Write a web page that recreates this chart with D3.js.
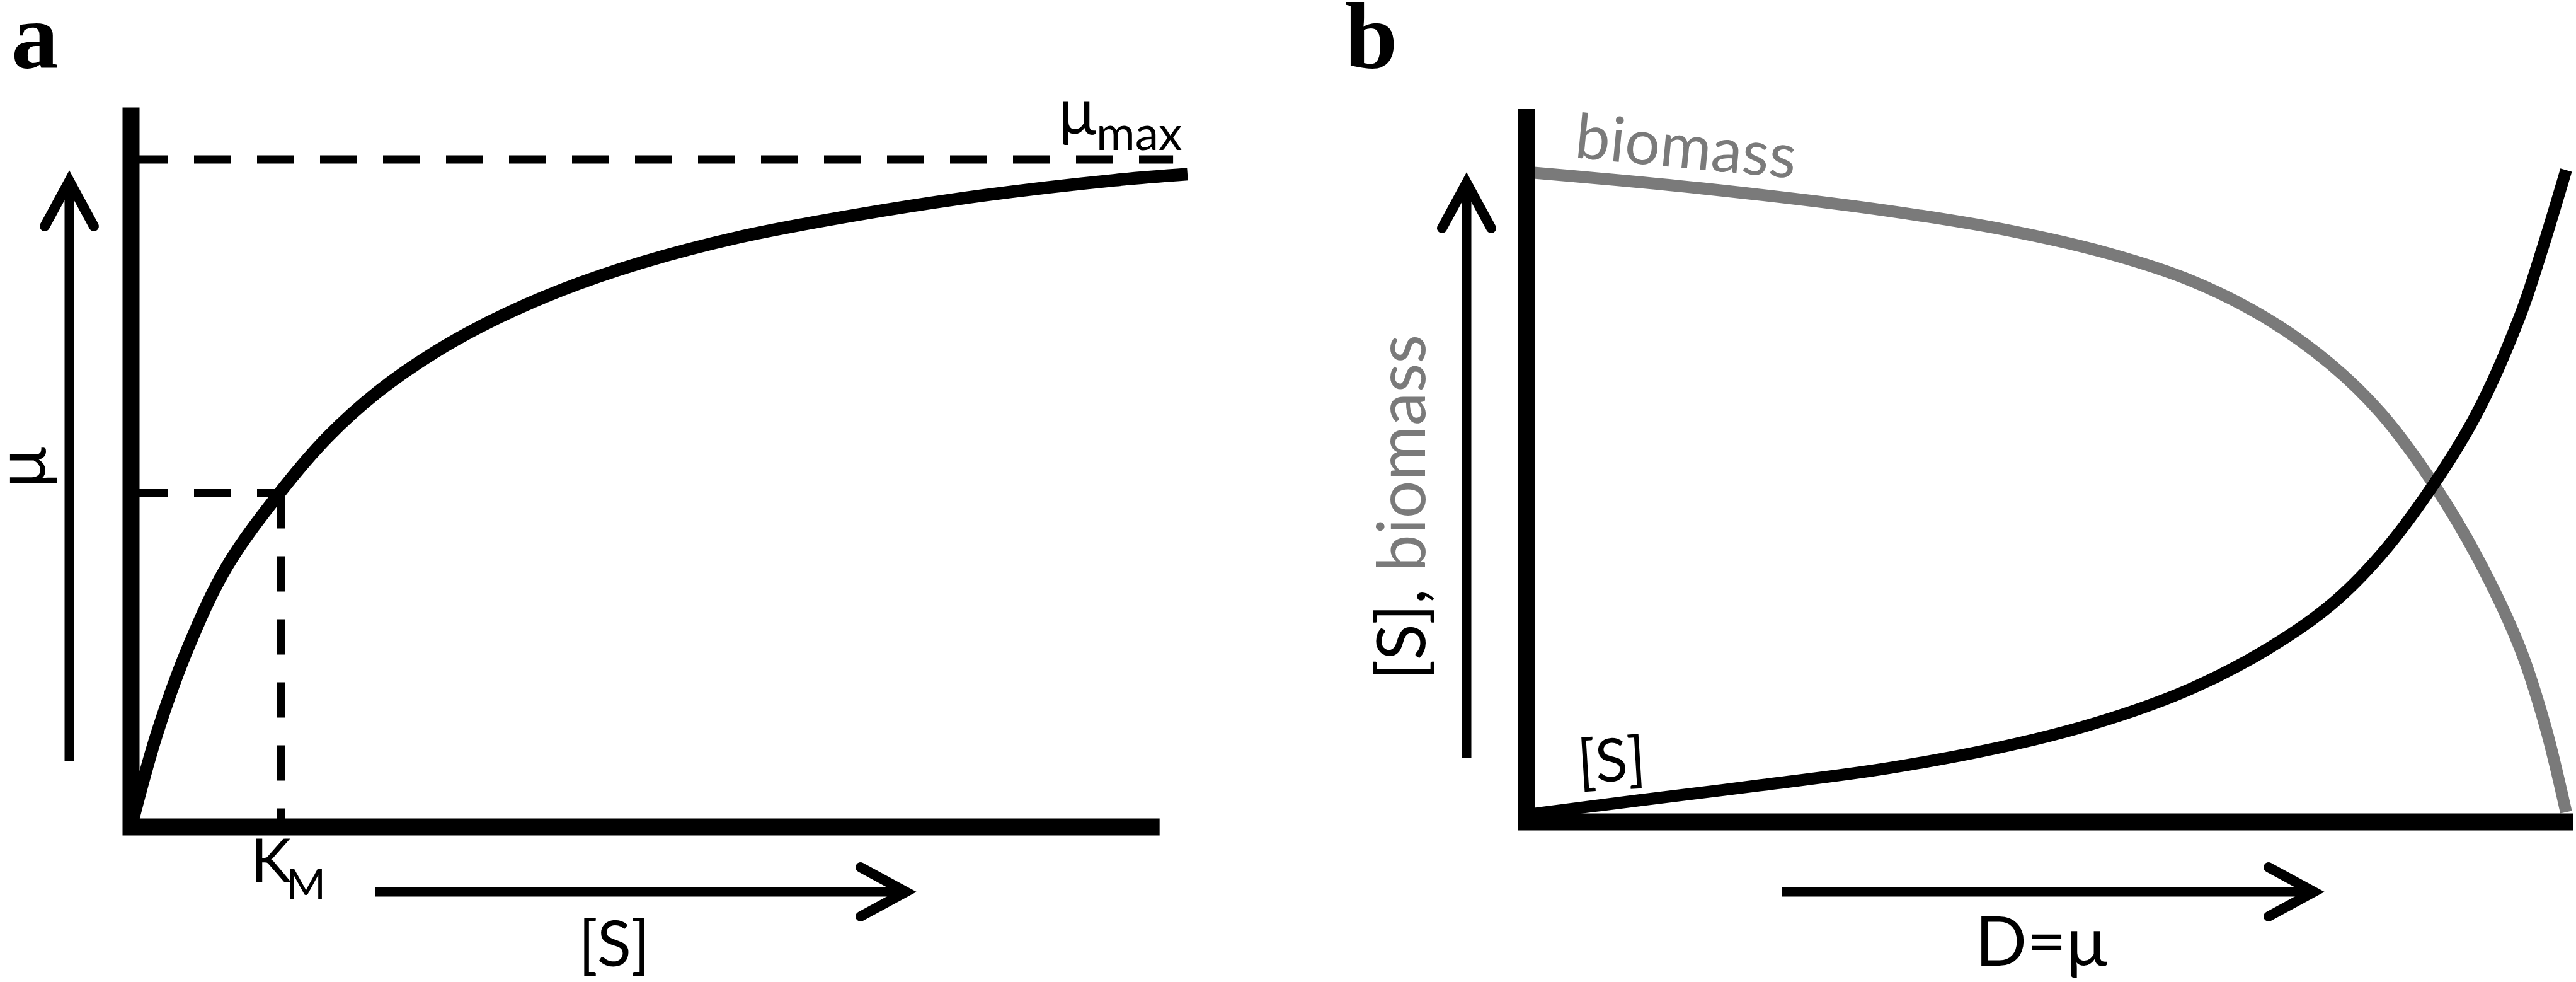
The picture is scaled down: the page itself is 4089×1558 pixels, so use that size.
<!DOCTYPE html>
<html>
<head>
<meta charset="utf-8">
<script src="https://cdn.jsdelivr.net/npm/d3@7"></script>
<style>
  html, body { margin: 0; padding: 0; background: #ffffff; }
  svg { display: block; }
</style>
</head>
<body>
<svg id="chart" width="4089" height="1558"></svg>
<script>
// ---------------- DATA ----------------
// Panel a: Monod / Michaelis-Menten growth curve
const monodS  = [0, 0.176, 0.387, 0.639, 1.0, 1.311, 1.647, 2.025, 2.403, 2.866, 3.412, 4.042, 4.840, 5.681, 6.563, 7.046];
const monodMu = [0, 0.142, 0.272, 0.390, 0.503, 0.584, 0.652, 0.711, 0.758, 0.804, 0.846, 0.883, 0.917, 0.946, 0.969, 0.978];
const muMax = 1.0;
const kM = 1.0;
const muAtKm = 0.5;

// Panel b: chemostat steady state vs dilution rate
const dilutionB  = [0, 0.168, 0.349, 0.470, 0.561, 0.640, 0.712, 0.773, 0.821, 0.872, 0.914, 0.955, 0.979, 0.999];
const biomassVal = [1.0, 0.975, 0.940, 0.908, 0.874, 0.832, 0.774, 0.704, 0.629, 0.519, 0.406, 0.266, 0.147, 0.015];
const dilutionS  = [0, 0.107, 0.228, 0.349, 0.470, 0.561, 0.640, 0.712, 0.773, 0.821, 0.872, 0.914, 0.955, 0.975, 0.999];
const substrate  = [0.011, 0.033, 0.057, 0.083, 0.120, 0.159, 0.206, 0.266, 0.334, 0.411, 0.520, 0.631, 0.780, 0.876, 1.003];

// Labels
const panelLabels = ["a", "b"];
const axisLabelsA = { y: "μ", x: "[S]", km: "K", kmSub: "M", mu: "μ", muSub: "max" };
const axisLabelsB = { yBlack: "[S],", yGray: " biomass", x: "D=μ", biomass: "biomass", s: "[S]" };

// ---------------- LAYOUT ----------------
const svg = d3.select("#chart");
const BLACK = "#000000";
const GRAY = "#7a7a7a";
const SANS = "Lato, 'Open Sans', sans-serif";
const SERIF = "'Liberation Serif', 'Times New Roman', serif";

// Panel a scales
const xA = d3.scaleLinear().domain([0, 1]).range([208, 446]);
const yA = d3.scaleLinear().domain([0, 1]).range([1312, 253]);
// Panel b scales
const xB = d3.scaleLinear().domain([0, 1]).range([2423, 4075]);
const yB = d3.scaleLinear().domain([0, 1]).range([1304, 273]);

const AXIS_W = 27;
const CURVE_W = 20;

function arrow(g, x1, y1, x2, y2) {
  const ang = Math.atan2(y2 - y1, x2 - x1);
  const back = 72, half = 39;
  const ux = Math.cos(ang), uy = Math.sin(ang);
  const px = -uy, py = ux;
  g.append("line").attr("x1", x1).attr("y1", y1).attr("x2", x2 - ux * 4).attr("y2", y2 - uy * 4)
    .attr("stroke", BLACK).attr("stroke-width", 15);
  g.append("path")
    .attr("d", `M${x2 - ux * back + px * half},${y2 - uy * back + py * half} L${x2},${y2} L${x2 - ux * back - px * half},${y2 - uy * back - py * half}`)
    .attr("fill", "none").attr("stroke", BLACK).attr("stroke-width", 16)
    .attr("stroke-linecap", "round").attr("stroke-linejoin", "miter");
}

// ================= PANEL A =================
const gA = svg.append("g");

gA.append("line")
  .attr("x1", xA(0)).attr("x2", xA(6.95)).attr("y1", yA(muMax)).attr("y2", yA(muMax))
  .attr("stroke", BLACK).attr("stroke-width", 13).attr("stroke-dasharray", "58,42");
gA.append("line")
  .attr("x1", xA(0)).attr("x2", xA(kM)).attr("y1", yA(muAtKm)).attr("y2", yA(muAtKm))
  .attr("stroke", BLACK).attr("stroke-width", 13).attr("stroke-dasharray", "58,42");
gA.append("line")
  .attr("x1", xA(kM)).attr("x2", xA(kM)).attr("y1", yA(muAtKm)).attr("y2", yA(0))
  .attr("stroke", BLACK).attr("stroke-width", 13).attr("stroke-dasharray", "56,44");

const lineA = d3.line().x(d => xA(d[0])).y(d => yA(d[1])).curve(d3.curveCatmullRom.alpha(0.5));
gA.append("path")
  .attr("d", lineA(monodS.map((s, i) => [s, monodMu[i]])))
  .attr("fill", "none").attr("stroke", BLACK).attr("stroke-width", CURVE_W);

gA.append("path")
  .attr("d", `M${xA(0)},${yA(1.078)} L${xA(0)},${yA(0)} L${xA(6.86)},${yA(0)}`)
  .attr("fill", "none").attr("stroke", BLACK).attr("stroke-width", AXIS_W)
  .attr("stroke-linejoin", "miter");

arrow(gA, 110, 1207, 110, 287);
arrow(gA, 595, 1415, 1438, 1415);

svg.append("text").attr("x", 18).attr("y", 107)
  .attr("font-family", SERIF).attr("font-weight", "bold")
  .attr("font-size", 150).attr("fill", BLACK).text(panelLabels[0]);

gA.append("text")
  .attr("transform", "translate(72,742) rotate(-90)")
  .attr("text-anchor", "middle").attr("font-family", SANS).attr("font-size", 110)
  .attr("fill", BLACK).text(axisLabelsA.y);

gA.append("text").attr("x", 975).attr("y", 1533).attr("text-anchor", "middle")
  .attr("font-family", SANS).attr("font-size", 100).attr("fill", BLACK).text(axisLabelsA.x);

const km = gA.append("text").attr("x", 398).attr("y", 1400)
  .attr("font-family", SANS).attr("font-size", 97).attr("fill", BLACK);
km.append("tspan").text(axisLabelsA.km);
km.append("tspan").attr("x", 454).attr("y", 1427).attr("font-size", 68).text(axisLabelsA.kmSub);

const mm = gA.append("text").attr("x", 1680).attr("y", 213)
  .attr("font-family", SANS).attr("font-size", 100).attr("fill", BLACK);
mm.append("tspan").text(axisLabelsA.mu);
mm.append("tspan").attr("x", 1740).attr("y", 238).attr("font-size", 75).text(axisLabelsA.muSub);

// ================= PANEL B =================
const gB = svg.append("g");
const lineB = d3.line().x(d => xB(d[0])).y(d => yB(d[1])).curve(d3.curveCatmullRom.alpha(0.5));

gB.append("path")
  .attr("d", lineB(dilutionB.map((d, i) => [d, biomassVal[i]])))
  .attr("fill", "none").attr("stroke", GRAY).attr("stroke-width", 19);

gB.append("path")
  .attr("d", lineB(dilutionS.map((d, i) => [d, substrate[i]])))
  .attr("fill", "none").attr("stroke", BLACK).attr("stroke-width", 19);

gB.append("path")
  .attr("d", `M${xB(0)},${yB(1.097)} L${xB(0)},${yB(0)} L${xB(1.006)},${yB(0)}`)
  .attr("fill", "none").attr("stroke", BLACK).attr("stroke-width", AXIS_W)
  .attr("stroke-linejoin", "miter");

arrow(gB, 2328, 1203, 2328, 290);
arrow(gB, 2828, 1415, 3673, 1415);

svg.append("text").attr("x", 2135).attr("y", 108)
  .attr("font-family", SERIF).attr("font-weight", "bold")
  .attr("font-size", 150).attr("fill", BLACK).text(panelLabels[1]);

const yl = gB.append("text")
  .attr("transform", "translate(2262,1079) rotate(-90)")
  .attr("font-family", SANS).attr("font-size", 106);
yl.append("tspan").attr("fill", BLACK).text(axisLabelsB.yBlack);
yl.append("tspan").attr("fill", GRAY).text(axisLabelsB.yGray);

gB.append("text").attr("x", 3240).attr("y", 1532).attr("text-anchor", "middle")
  .attr("font-family", SANS).attr("font-size", 108).attr("fill", BLACK).text(axisLabelsB.x);

gB.append("text").attr("transform", "translate(2498,250) rotate(5.4)")
  .attr("font-family", SANS).attr("font-size", 99).attr("fill", GRAY).text(axisLabelsB.biomass);

gB.append("text").attr("transform", "translate(2506,1243) rotate(-3.5)")
  .attr("font-family", SANS).attr("font-size", 95).attr("fill", BLACK).text(axisLabelsB.s);
</script>
</body>
</html>
